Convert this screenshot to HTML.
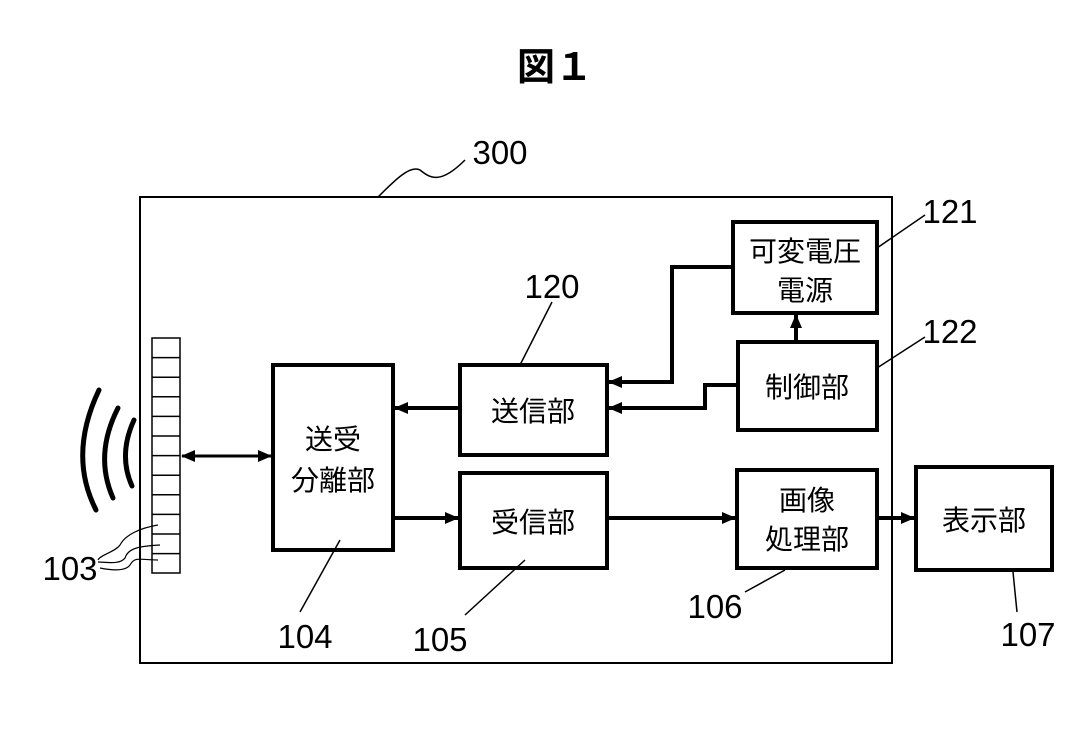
<!DOCTYPE html>
<html><head><meta charset="utf-8"><style>
body{margin:0;background:#fff;}
svg text{font-family:"Liberation Sans","Noto Sans CJK JP",sans-serif;fill:#000;}
</style></head><body>
<svg width="1071" height="724" viewBox="0 0 1071 724" xmlns="http://www.w3.org/2000/svg">
<defs>
<marker id="a" markerWidth="14" markerHeight="12" refX="13" refY="6" orient="auto" markerUnits="userSpaceOnUse"><path d="M0,0 L14,6 L0,12 z" fill="#000"/></marker>
<marker id="b" markerWidth="14" markerHeight="12" refX="1" refY="6" orient="auto" markerUnits="userSpaceOnUse"><path d="M14,0 L0,6 L14,12 z" fill="#000"/></marker>
</defs>
<text x="555" y="80" font-size="38" font-weight="bold" text-anchor="middle">図１</text>
<rect x="140" y="197" width="752" height="466" fill="none" stroke="#000" stroke-width="2"/>
<path d="M378,197 C395,180 410,165 420,170 C430,178 440,185 465,160" fill="none" stroke="#000" stroke-width="1.5"/>
<text x="500" y="164" font-size="33" text-anchor="middle">300</text>
<g stroke="#000" stroke-width="1.5" fill="none">
<rect x="152" y="338" width="28" height="235"/>
<path d="M152,357.6H180M152,377.2H180M152,396.8H180M152,416.4H180M152,436H180M152,455.6H180M152,475.2H180M152,494.8H180M152,514.4H180M152,534H180M152,553.6H180"/>
</g>
<g stroke="#000" stroke-width="5" fill="none" stroke-linecap="round">
<path d="M99,390 Q68,455 96,510"/>
<path d="M118,408 Q94,455 113,498"/>
<path d="M134,420 Q118,455 132,486"/>
</g>
<path d="M158,525 C140,528 125,535 120,545 C115,552 100,555 98,560 M160,545 C140,546 128,548 125,558 C120,565 105,562 98,562 M158,560 C140,560 135,556 130,565 C125,572 110,570 100,568" fill="none" stroke="#000" stroke-width="1.2"/>
<text x="70" y="580" font-size="33" text-anchor="middle">103</text>
<g stroke="#000" stroke-width="4" fill="#fff">
<rect x="273" y="365" width="120" height="185"/>
<rect x="460" y="365" width="147" height="90"/>
<rect x="733" y="222" width="144" height="91"/>
<rect x="738" y="342" width="139" height="88"/>
<rect x="460" y="473" width="147" height="95"/>
<rect x="737" y="470" width="140" height="98"/>
<rect x="916" y="467" width="136" height="103"/>
</g>
<g font-size="28" text-anchor="middle">
<text x="333" y="449">送受</text>
<text x="333" y="490">分離部</text>
<text x="533" y="421">送信部</text>
<text x="805" y="261">可変電圧</text>
<text x="805" y="300">電源</text>
<text x="807" y="397">制御部</text>
<text x="533" y="532">受信部</text>
<text x="807" y="510">画像</text>
<text x="807" y="549">処理部</text>
<text x="984" y="530">表示部</text>
</g>
<g stroke="#000" stroke-width="4" fill="none">
<path d="M182,456H271" marker-start="url(#b)" marker-end="url(#a)" stroke-width="3"/>
<path d="M460,408H395" marker-end="url(#a)"/>
<path d="M733,267H672V382H609" marker-end="url(#a)"/>
<path d="M738,385H705V408H609" marker-end="url(#a)"/>
<path d="M796,342V315" marker-end="url(#a)"/>
<path d="M393,518H458" marker-end="url(#a)"/>
<path d="M607,518H735" marker-end="url(#a)"/>
<path d="M877,518H914" marker-end="url(#a)"/>
</g>
<g stroke="#000" stroke-width="1.5" fill="none">
<path d="M520,365L552,302"/>
<path d="M877,248L925,215"/>
<path d="M877,368L925,337"/>
<path d="M340,540L300,612"/>
<path d="M525,560L465,615"/>
<path d="M785,570L745,592"/>
<path d="M1013,572L1017,612"/>
</g>
<g font-size="33" text-anchor="middle">
<text x="552" y="298">120</text>
<text x="950" y="223">121</text>
<text x="950" y="343">122</text>
<text x="305" y="648">104</text>
<text x="440" y="651">105</text>
<text x="715" y="618">106</text>
<text x="1028" y="646">107</text>
</g>
</svg>
</body></html>
